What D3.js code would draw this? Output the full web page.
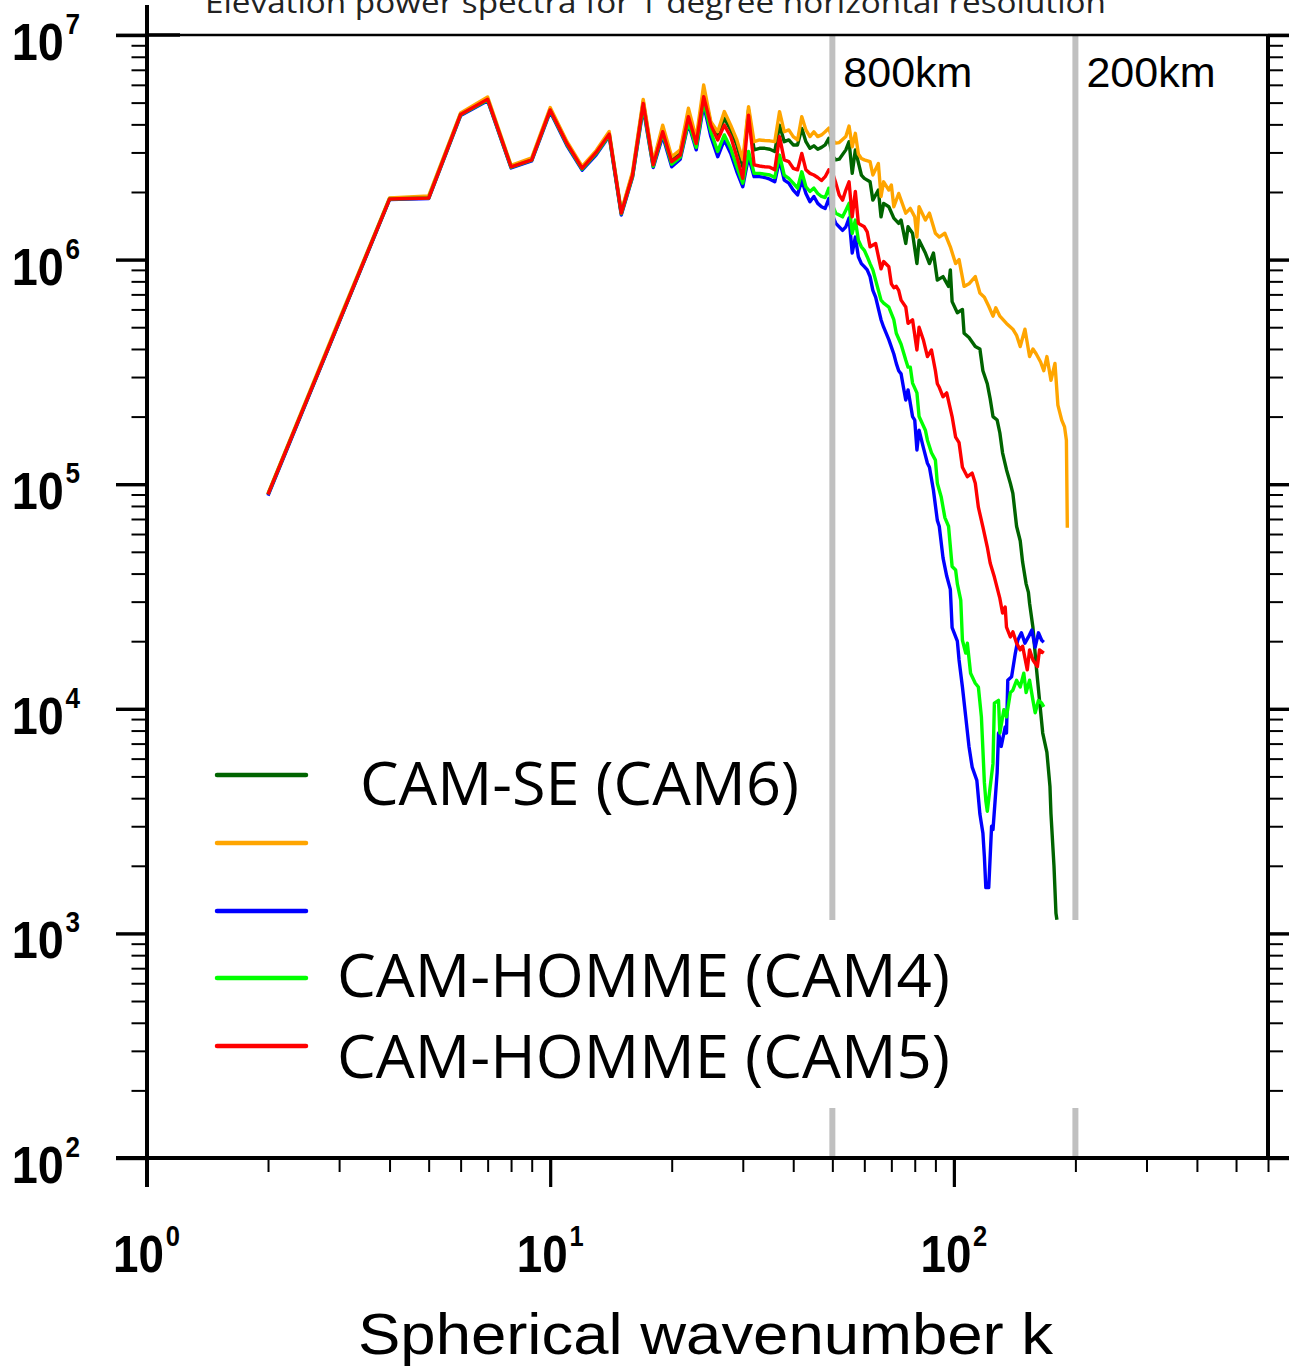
<!DOCTYPE html>
<html>
<head>
<meta charset="utf-8">
<script src="https://cdn.jsdelivr.net/npm/d3@7"></script>
<style>
  body { margin: 0; background: #fff; }
  svg { display: block; }
</style>
</head>
<body>
<svg id="chart" width="1289" height="1370"></svg>
<script>
// ---- Elevation power spectra, [wavenumber k, power] per run ----
const camSE6 = [[2,9.0e4],[3,5.3e5],[4,1.87e6],[5,1.9e6],[6,4.45e6],[7,5.2e6],[8,2.6e6],[9,2.8e6],[10,4.67e6],[11,3.31e6],[12,2.57e6],[13,3.02e6],[14,3.65e6],[15,1.62e6],[16,2.41e6],[17,5.05e6],[18,2.67e6],[19,3.84e6],[20,2.8e6],[21,3.0e6],[22,4.48e6],[23,3.35e6],[24,5.6e6],[25,4.04e6],[26,3.59e6],[27,4.26e6],[28,3.78e6],[29,3.24e6],[30,2.59e6],[31,4.64e6],[32,3.08e6],[33,3.13e6],[34,3.13e6],[35,3.10e6],[36,3.03e6],[37,3.97e6],[38,3.35e6],[39,3.41e6],[40,3.24e6],[41,3.24e6],[42,3.84e6],[43,3.35e6],[44,3.13e6],[45,3.21e6],[46,3.10e6],[47,3.16e6],[48,3.24e6],[49,3.47e6],[50,2.9e6],[51,2.78e6],[52,2.80e6],[54,3.08e6],[55,3.35e6],[56,2.42e6],[57,3.08e6],[59,2.38e6],[60,2.30e6],[62,2.22e6],[63,1.84e6],[65,2.04e6],[66,1.55e6],[67,1.78e6],[69,1.72e6],[71,1.53e6],[73,1.45e6],[74,1.50e6],[76,1.18e6],[77,1.40e6],[79,1.31e6],[81,9.6e5],[82,1.22e6],[85,1.07e6],[87,9.6e5],[89,1.07e6],[91,8.1e5],[94,8.4e5],[97,7.6e5],[98,9.0e5],[99,6.5e5],[102,5.8e5],[105,6.0e5],[106,4.7e5],[109,4.5e5],[113,4.1e5],[116,4.0e5],[118,3.2e5],[121,2.8e5],[123,2.4e5],[125,2.0e5],[128,1.93e5],[130,1.69e5],[132,1.38e5],[135,1.16e5],[138,1.01e5],[140,9.1e4],[143,6.5e4],[146,5.6e4],[148,4.5e4],[151,3.6e4],[153,3.3e4],[154,2.95e4],[157,2.3e4],[160,1.54e4],[163,1.09e4],[166,7.8e3],[170,6.4e3],[173,4.5e3],[174,3.4e3],[177,2.0e3],[179,1.23e3],[180,1.15e3]];

const orangeRun = [[2,9.1e4],[3,5.4e5],[4,1.88e6],[5,1.92e6],[6,4.5e6],[7,5.3e6],[8,2.63e6],[9,2.84e6],[10,4.75e6],[11,3.36e6],[12,2.6e6],[13,3.06e6],[14,3.72e6],[15,1.64e6],[16,2.46e6],[17,5.17e6],[18,2.72e6],[19,3.97e6],[20,2.87e6],[21,3.08e6],[22,4.72e6],[23,3.47e6],[24,5.99e6],[25,4.11e6],[26,3.71e6],[27,4.56e6],[28,3.97e6],[29,3.41e6],[30,2.78e6],[31,4.80e6],[32,3.35e6],[33,3.41e6],[34,3.39e6],[35,3.38e6],[36,3.35e6],[37,4.56e6],[38,3.71e6],[39,3.78e6],[40,3.53e6],[41,3.41e6],[42,4.33e6],[43,3.78e6],[44,3.53e6],[45,3.71e6],[46,3.53e6],[47,3.59e6],[48,3.71e6],[49,3.85e6],[50,3.41e6],[51,3.30e6],[52,3.32e6],[54,3.53e6],[55,3.93e6],[56,3.18e6],[57,3.65e6],[58,2.95e6],[59,2.82e6],[60,2.78e6],[62,2.73e6],[63,2.38e6],[65,2.68e6],[66,1.91e6],[67,2.22e6],[69,2.04e6],[70,2.15e6],[71,1.72e6],[73,1.97e6],[76,1.61e6],[78,1.69e6],[80,1.55e6],[81,1.26e6],[82,1.72e6],[85,1.50e6],[87,1.61e6],[90,1.31e6],[92,1.26e6],[95,1.31e6],[98,1.14e6],[101,9.6e5],[103,1.0e6],[106,7.6e5],[109,7.8e5],[113,8.4e5],[116,7.1e5],[119,6.8e5],[122,6.2e5],[125,5.6e5],[127,6.1e5],[130,5.6e5],[135,5.2e5],[140,4.9e5],[143,4.6e5],[146,4.1e5],[150,4.9e5],[154,3.7e5],[157,4.0e5],[160,3.8e5],[164,3.5e5],[167,3.2e5],[170,3.7e5],[174,2.9e5],[178,3.45e5],[181,2.25e5],[185,1.93e5],[188,1.80e5],[190,1.57e5],[191,6.4e4]];

const blueRun = [[2,8.9e4],[3,5.25e5],[4,1.85e6],[5,1.87e6],[6,4.38e6],[7,5.1e6],[8,2.56e6],[9,2.75e6],[10,4.55e6],[11,3.22e6],[12,2.5e6],[13,2.93e6],[14,3.55e6],[15,1.58e6],[16,2.33e6],[17,4.72e6],[18,2.57e6],[19,3.55e6],[20,2.59e6],[21,2.80e6],[22,4.04e6],[23,3.08e6],[24,4.88e6],[25,3.53e6],[26,2.87e6],[27,3.41e6],[28,2.97e6],[29,2.46e6],[30,2.11e6],[31,2.87e6],[32,2.34e6],[33,2.34e6],[34,2.32e6],[35,2.28e6],[36,2.22e6],[37,2.78e6],[38,2.26e6],[39,2.19e6],[40,2.04e6],[41,1.94e6],[42,2.26e6],[43,1.97e6],[44,1.81e6],[45,1.91e6],[46,1.78e6],[47,1.72e6],[48,1.69e6],[49,1.87e6],[50,1.58e6],[51,1.45e6],[53,1.35e6],[54,1.40e6],[55,1.53e6],[56,1.07e6],[57,1.26e6],[58,1.03e6],[59,9.6e5],[60,9.3e5],[61,9.0e5],[62,8.4e5],[63,7.3e5],[64,6.8e5],[66,5.4e5],[67,5.0e5],[69,4.4e5],[71,3.8e5],[72,3.45e5],[73,3.2e5],[74,3.1e5],[75,2.7e5],[76,2.37e5],[77,2.63e5],[79,2.0e5],[80,1.93e5],[81,1.42e5],[82,1.74e5],[84,1.46e5],[86,1.24e5],[87,1.19e5],[89,9.4e4],[91,6.9e4],[92,6.5e4],[94,4.7e4],[96,3.9e4],[98,3.4e4],[99,2.3e4],[102,2.0e4],[103,1.65e4],[105,1.25e4],[107,9.2e3],[109,6.8e3],[111,5.5e3],[114,4.8e3],[116,3.4e3],[118,2.8e3],[119,2.2e3],[120,1.6e3],[122,1.6e3],[124,3.0e3],[125,2.9e3],[128,5.2e3],[129,7.8e3],[131,6.8e3],[134,8.3e3],[135,7.8e3],[136,1.34e4],[139,1.39e4],[142,1.77e4],[144,2.02e4],[147,2.18e4],[150,1.96e4],[153,2.09e4],[156,2.24e4],[159,1.88e4],[162,2.18e4],[165,2.02e4],[167,1.98e4]];

const camHomme4 = [[2,9.0e4],[3,5.3e5],[4,1.86e6],[5,1.88e6],[6,4.41e6],[7,5.14e6],[8,2.58e6],[9,2.77e6],[10,4.6e6],[11,3.26e6],[12,2.53e6],[13,2.97e6],[14,3.58e6],[15,1.6e6],[16,2.35e6],[17,4.83e6],[18,2.6e6],[19,3.65e6],[20,2.66e6],[21,2.86e6],[22,4.11e6],[23,3.16e6],[24,5.05e6],[25,3.71e6],[26,3.03e6],[27,3.59e6],[28,3.13e6],[29,2.59e6],[30,2.19e6],[31,3.03e6],[32,2.42e6],[33,2.42e6],[34,2.40e6],[35,2.38e6],[36,2.32e6],[37,2.92e6],[38,2.38e6],[39,2.30e6],[40,2.19e6],[41,2.08e6],[42,2.46e6],[43,2.11e6],[44,2.01e6],[45,2.08e6],[46,1.97e6],[47,1.91e6],[48,1.89e6],[49,2.08e6],[50,1.75e6],[51,1.61e6],[53,1.55e6],[54,1.66e6],[55,1.78e6],[56,1.31e6],[57,1.50e6],[58,1.22e6],[59,1.14e6],[60,1.10e6],[61,1.03e6],[62,9.6e5],[63,9.0e5],[64,8.1e5],[66,6.6e5],[67,6.4e5],[69,6.15e5],[71,5.4e5],[72,4.7e5],[74,4.2e5],[76,3.57e5],[77,3.32e5],[78,3.32e5],[79,2.82e5],[81,2.55e5],[82,2.0e5],[85,1.74e5],[86,1.57e5],[88,1.38e5],[90,1.28e5],[91,1.01e5],[93,8.8e4],[95,7.1e4],[97,6.5e4],[99,4.3e4],[101,4.15e4],[102,3.6e4],[104,3.05e4],[105,2.02e4],[107,1.77e4],[108,1.96e4],[110,1.44e4],[113,1.30e4],[115,1.25e4],[117,9.2e3],[118,6.6e3],[119,4.7e3],[120,3.9e3],[121,3.5e3],[123,4.5e3],[125,5.7e3],[126,1.06e4],[129,1.09e4],[130,7.8e3],[133,9.9e3],[135,9.2e3],[138,1.18e4],[140,1.21e4],[143,1.34e4],[146,1.25e4],[149,1.44e4],[151,1.18e4],[154,1.34e4],[157,1.09e4],[159,9.6e3],[162,1.09e4],[165,1.06e4],[167,1.02e4]];

const camHomme5 = [[2,9.0e4],[3,5.3e5],[4,1.86e6],[5,1.88e6],[6,4.43e6],[7,5.17e6],[8,2.59e6],[9,2.78e6],[10,4.64e6],[11,3.29e6],[12,2.55e6],[13,3.0e6],[14,3.62e6],[15,1.61e6],[16,2.38e6],[17,4.96e6],[18,2.64e6],[19,3.71e6],[20,2.73e6],[21,2.92e6],[22,4.33e6],[23,3.29e6],[24,5.31e6],[25,3.97e6],[26,3.41e6],[27,3.97e6],[28,3.53e6],[29,2.87e6],[30,2.30e6],[31,4.40e6],[32,2.64e6],[33,2.61e6],[34,2.59e6],[35,2.58e6],[36,2.51e6],[37,3.53e6],[38,2.78e6],[39,2.73e6],[40,2.55e6],[41,2.51e6],[42,2.97e6],[43,2.51e6],[44,2.42e6],[45,2.38e6],[46,2.32e6],[47,2.25e6],[48,2.34e6],[49,2.51e6],[50,2.45e6],[51,2.19e6],[52,1.94e6],[53,1.84e6],[54,2.04e6],[55,2.22e6],[56,1.55e6],[57,2.01e6],[58,1.45e6],[60,1.40e6],[61,1.33e6],[62,1.14e6],[64,1.18e6],[66,9.1e5],[67,9.8e5],[69,9.3e5],[70,7.8e5],[71,7.5e5],[72,7.6e5],[73,7.3e5],[74,6.6e5],[76,6.15e5],[77,5.2e5],[79,5.4e5],[81,3.96e5],[82,5.0e5],[84,4.4e5],[86,3.7e5],[88,3.96e5],[90,3.2e5],[91,2.8e5],[92,2.7e5],[94,2.45e5],[96,2.55e5],[99,2.0e5],[101,1.62e5],[103,1.53e5],[105,1.19e5],[108,1.08e5],[111,1.12e5],[113,1.01e5],[115,7.9e4],[118,6.45e4],[121,5.25e4],[123,4.46e4],[126,3.86e4],[130,3.1e4],[132,2.67e4],[134,2.84e4],[135,2.31e4],[138,2.09e4],[140,2.2e4],[143,1.96e4],[146,1.83e4],[148,1.9e4],[152,1.49e4],[154,1.83e4],[157,1.65e4],[161,1.54e4],[163,1.83e4],[167,1.77e4]];

// drawing order: first entry is drawn first (bottom)
const seriesData   = [camSE6, orangeRun, blueRun, camHomme4, camHomme5];
const seriesColors = ["#006400", "#ffa500", "#0000ff", "#00ff00", "#ff0000"];
const legendLabels = ["CAM-SE (CAM6)", "", "", "CAM-HOMME (CAM4)", "CAM-HOMME (CAM5)"];

const xMajorTicks = [1, 10, 100];
const xTickExponents = ["0", "1", "2"];
const yMajorTicks = [1e2, 1e3, 1e4, 1e5, 1e6, 1e7];
const yTickExponents = ["2", "3", "4", "5", "6", "7"];

const resolutionK = [50, 200];
const resolutionLabels = ["800km", "200km"];

const titleText = "Elevation power spectra for 1 degree horizontal resolution";
const xAxisTitle = "Spherical wavenumber k";

// ---- layout ----
const svg = d3.select("#chart");
const x = d3.scaleLog().domain([1, 600]).range([146.5, 1268]);
const y = d3.scaleLog().domain([1e2, 1e7]).range([1158, 35]);
const helv = "'Liberation Sans', Arial, Helvetica, sans-serif";
const humanist = "'Open Sans', 'Noto Sans', sans-serif";

// title (partly above the page edge)
svg.append("text")
  .attr("x", 205).attr("y", 13)
  .attr("textLength", 901).attr("lengthAdjust", "spacingAndGlyphs")
  .style("font-family", humanist).style("font-size", "30px")
  .attr("fill", "#222")
  .text(titleText);

// spectra
const line = d3.line().x(d => x(d[0])).y(d => y(d[1]));
svg.append("g").attr("class", "spectra")
  .selectAll("path")
  .data(seriesData)
  .join("path")
  .attr("d", d => line(d))
  .attr("fill", "none")
  .attr("stroke", (d, i) => seriesColors[i])
  .attr("stroke-width", 3.4)
  .attr("stroke-linejoin", "round");

// resolution markers
const marks = svg.append("g").attr("class", "resolution");
marks.selectAll("line")
  .data(resolutionK)
  .join("line")
  .attr("x1", d => x(d)).attr("x2", d => x(d))
  .attr("y1", y(1e7)).attr("y2", y(1e2))
  .attr("stroke", "#c0c0c0").attr("stroke-width", 6);
marks.selectAll("text")
  .data(resolutionK)
  .join("text")
  .attr("x", d => x(d) + 11).attr("y", 87)
  .style("font-family", helv).style("font-size", "43px")
  .attr("fill", "#000")
  .text((d, i) => resolutionLabels[i]);

// legend panel
const legend = svg.append("g").attr("class", "legend");
legend.append("rect")
  .attr("x", 190).attr("y", 920).attr("width", 912).attr("height", 188)
  .attr("fill", "#fff");
const legendLineY = [775, 843, 911, 978, 1046];
const legendTextY = [805, 0, 0, 997, 1078];
const legendTextX = [360, 0, 0, 337, 337];
const legendTextW = [439, 0, 0, 613, 613];
legend.selectAll("line")
  .data(legendLabels)
  .join("line")
  .attr("x1", 217).attr("x2", 306)
  .attr("y1", (d, i) => legendLineY[i]).attr("y2", (d, i) => legendLineY[i])
  .attr("stroke", (d, i) => seriesColors[i])
  .attr("stroke-width", 4.5).attr("stroke-linecap", "round");
legend.selectAll("text")
  .data(legendLabels.map((t, i) => ({ t, i })).filter(d => d.t !== ""))
  .join("text")
  .attr("x", d => legendTextX[d.i]).attr("y", d => legendTextY[d.i])
  .attr("textLength", d => legendTextW[d.i]).attr("lengthAdjust", "spacingAndGlyphs")
  .style("font-family", humanist).style("font-size", "60px")
  .attr("fill", "#000")
  .text(d => d.t);

// axes frame
const frame = svg.append("g").attr("stroke", "#000").attr("fill", "none");
frame.append("line").attr("x1", 116).attr("x2", 1289).attr("y1", 35).attr("y2", 35).attr("stroke-width", 2.6);
frame.append("line").attr("x1", 147).attr("x2", 180).attr("y1", 35).attr("y2", 35).attr("stroke-width", 3.6);
frame.append("line").attr("x1", 116).attr("x2", 1289).attr("y1", 1158).attr("y2", 1158).attr("stroke-width", 4);
frame.append("line").attr("x1", 147).attr("x2", 147).attr("y1", 5).attr("y2", 1187).attr("stroke-width", 4);
frame.append("line").attr("x1", 1268).attr("x2", 1268).attr("y1", 34).attr("y2", 1158).attr("stroke-width", 4);

const isDecade = v => Math.abs(Math.log10(v) - Math.round(Math.log10(v))) < 1e-9;
const xMinor = x.ticks().filter(v => !isDecade(v));
const yMinor = y.ticks().filter(v => !isDecade(v));

function tickAxis(axis, transform, width) {
  const g = svg.append("g").attr("transform", transform).call(axis);
  g.select(".domain").remove();
  g.selectAll(".tick line").attr("stroke", "#000").attr("stroke-width", width);
  g.selectAll(".tick text").remove();
  return g;
}
tickAxis(d3.axisBottom(x).tickValues(xMinor).tickSize(14).tickFormat(""), "translate(0,1158)", 2);
tickAxis(d3.axisBottom(x).tickValues(xMajorTicks.slice(1)).tickSize(29).tickFormat(""), "translate(0,1158)", 3.2);
tickAxis(d3.axisLeft(y).tickValues(yMinor).tickSize(15.5).tickFormat(""), "translate(147,0)", 2);
tickAxis(d3.axisLeft(y).tickValues(yMajorTicks).tickSize(31).tickFormat(""), "translate(147,0)", 3.4);
tickAxis(d3.axisRight(y).tickValues(yMinor).tickSize(15).tickFormat(""), "translate(1268,0)", 2);
tickAxis(d3.axisRight(y).tickValues(yMajorTicks).tickSize(21).tickFormat(""), "translate(1268,0)", 3.4);

// power-of-ten tick labels
function powerLabel(sel, exp) {
  const t = sel.append("text")
    .style("font-family", helv).style("font-weight", "bold")
    .attr("fill", "#000");
  t.append("tspan").style("font-size", "52px").text("10");
  t.append("tspan").attr("dx", 2).attr("dy", -26).style("font-size", "29px").text(exp);
  return t;
}
xMajorTicks.forEach((v, i) => {
  const g = svg.append("g").attr("transform", `translate(${x(v)},1272) scale(0.88,1)`);
  powerLabel(g, xTickExponents[i]).attr("text-anchor", "middle");
});
yMajorTicks.forEach((v, i) => {
  const g = svg.append("g").attr("transform", `translate(80,${y(v) + 25}) scale(0.9,1)`);
  powerLabel(g, yTickExponents[i]).attr("text-anchor", "end");
});

// x axis title
svg.append("text")
  .attr("x", 358).attr("y", 1354)
  .attr("textLength", 695).attr("lengthAdjust", "spacingAndGlyphs")
  .style("font-family", helv).style("font-size", "58px")
  .attr("fill", "#000")
  .text(xAxisTitle);
</script>
</body>
</html>
